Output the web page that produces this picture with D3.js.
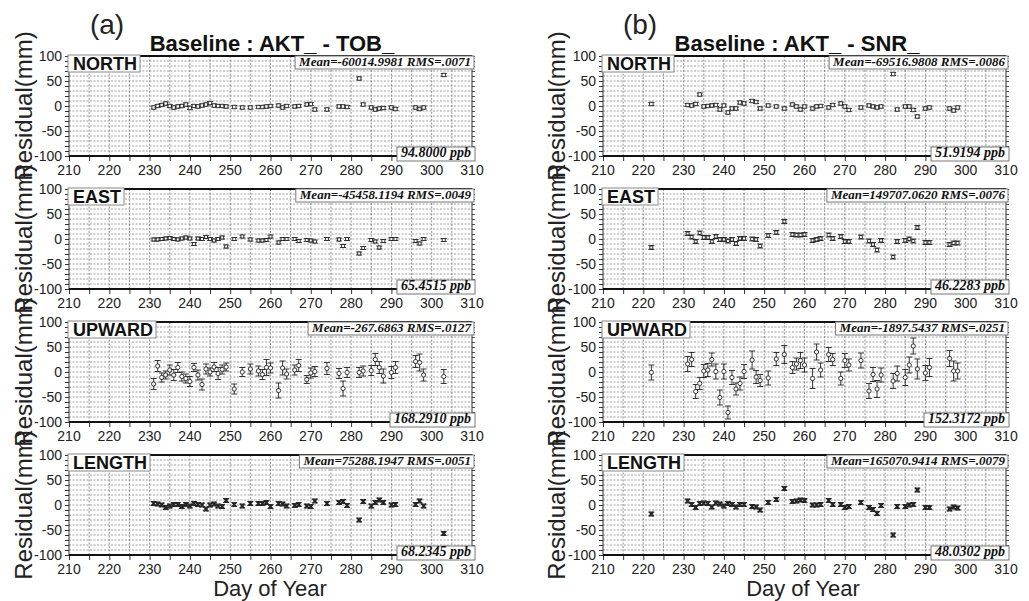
<!DOCTYPE html>
<html>
<head>
<meta charset="utf-8">
<script src="https://cdn.jsdelivr.net/npm/d3@7"></script>
<style>
  body { margin: 0; background: #fff; }
  svg { display: block; }
  .tick-label { font-family: "Liberation Sans", Arial, sans-serif; font-size: 14px; fill: #222; }
  .comp-label { font-family: "Liberation Sans", Arial, sans-serif; font-size: 18px; font-weight: bold; fill: #111; }
  .stat-label { font-family: "Liberation Serif", "Times New Roman", serif; font-size: 13px; font-weight: bold; font-style: italic; fill: #111; }
  .ppb-label { font-family: "Liberation Serif", "Times New Roman", serif; font-size: 14px; font-weight: bold; font-style: italic; fill: #111; }
  .axis-title { font-family: "Liberation Sans", Arial, sans-serif; font-size: 24px; fill: #222; }
  .x-title { font-family: "Liberation Sans", Arial, sans-serif; font-size: 22px; fill: #222; }
  .panel-tag { font-family: "Liberation Sans", Arial, sans-serif; font-size: 28px; fill: #222; }
  .main-title { font-family: "Liberation Sans", Arial, sans-serif; font-size: 22px; font-weight: bold; fill: #111; }
</style>
</head>
<body>
<svg id="chart" width="1029" height="601"></svg>
<script>
// ---- data ----
const components = ['NORTH', 'EAST', 'UPWARD', 'LENGTH'];
const xTicks = [210, 220, 230, 240, 250, 260, 270, 280, 290, 300, 310];
const yTicks = [100, 50, 0, -50, -100];

// (a) AKT_ - TOB_
const daysA = [231, 232, 233, 234, 235, 236, 237, 238, 239, 240, 241, 242, 243, 244, 245, 246, 247, 248, 249, 251,
  253, 255, 257, 258, 259, 260, 262, 263, 264, 266, 267, 269, 270, 271, 274, 277, 278, 279, 282, 283,
  285, 286, 287, 288, 290, 291, 296, 297, 298, 303];
const northA = [-3, 0, 2, 5, 0, -3, -1, 0, 3, -4, 0, -1, 1, 3, 6, 1, 0, 0, -1, -2,
  -3, -3, -2, -2, -1, 0, 1, -3, 0, -1, 0, 3, 4, -7, -7, -1, -1, -2, 55, 3,
  -3, -7, -5, -4, -3, -6, -3, -6, -3, 62];
const eastA = [-1, -1, 0, 1, 2, 0, -1, 1, 3, 1, -10, 1, 0, 4, 0, -3, 0, 3, -15, 0,
  5, -1, -3, -3, -2, 5, -7, 0, 0, 0, -4, -2, -3, -5, 0, -1, -14, 0, -29, -18,
  -2, -5, -17, -4, 0, 0, -4, -9, 0, -2];
const upA = [-24, 12, -11, -6, 4, -6, 9, -9, -13, -19, 9, -6, -25, 6, 0, 10, -3, 5, 10, -34,
  0, 6, 2, -5, 9, 8, -37, 8, -4, 4, 13, -15, -2, 1, 7, -3, -33, -1, -1, 2,
  3, 25, 9, -8, -1, 9, 21, 19, -6, -9];
const upErrA = [11, 11, 9, 8, 10, 11, 10, 9, 9, 10, 8, 10, 11, 10, 8, 9, 12, 9, 8, 10,
  9, 10, 10, 10, 16, 10, 15, 14, 10, 10, 12, 8, 10, 10, 12, 10, 15, 10, 10, 10,
  10, 12, 12, 14, 12, 12, 12, 17, 12, 14];
const lengthA = [3, 2, 0, -5, -2, 1, 1, -3, 1, -2, 3, 1, 0, -8, 0, 2, -2, -3, 9, 1,
  -2, 3, 3, 3, 5, -3, 3, 2, -2, -1, 1, -2, -3, 8, 3, 5, 7, -1, -30, 7,
  -2, 5, 10, 5, 0, 1, 1, 8, -2, -57];
const statsA = ['Mean=-60014.9981 RMS=.0071', 'Mean=-45458.1194 RMS=.0049', 'Mean=-267.6863 RMS=.0127', 'Mean=75288.1947 RMS=.0051'];
const ppbA = ['94.8000 ppb', '65.4515 ppb', '168.2910 ppb', '68.2345 ppb'];

// (b) AKT_ - SNR_
const daysB = [222, 231, 232, 233, 234, 235, 236, 237, 238, 239, 240, 241, 242, 243, 244, 245, 247, 248, 249, 251,
  253, 255, 257, 258, 259, 260, 262, 263, 264, 266, 267, 269, 270, 271, 274, 276, 277, 278, 279, 282,
  283, 285, 286, 287, 288, 290, 291, 296, 297, 298];
const northB = [4, 2, 1, 4, 23, -1, 0, 1, 2, -7, 1, -13, -5, -5, 7, 5, 10, 8, -5, 1,
  -1, -5, 3, -1, -7, -1, -5, -1, 0, -3, 2, 5, -1, -8, -3, 1, -1, -3, -1, 64,
  -7, -1, -1, -8, -21, -5, -3, -5, -9, -3];
const eastB = [-17, 11, 4, -5, 12, 3, 3, -5, 5, -1, -1, -4, -1, -9, 1, 1, 0, -1, -14, 7,
  13, 35, 9, 8, 8, 9, -3, -1, 1, 8, 1, 5, -5, -5, 4, -4, -11, -22, -3, -36,
  -5, -3, 0, -4, 23, -7, -7, -11, -8, -8];
const upB = [-1, 16, 25, -39, -23, 2, 4, 25, 1, -51, 1, -81, -11, -34, -23, 1, 24, -10, -17, -12,
  26, 35, 9, 16, 23, 14, -13, 40, 4, 35, 25, -13, 23, 14, 23, -38, -5, -34, -6, -18,
  -3, -11, 14, 52, 6, -2, 9, 27, 2, 2];
const upErrB = [15, 15, 14, 14, 12, 13, 13, 13, 15, 15, 15, 13, 14, 12, 13, 14, 18, 13, 12, 14,
  13, 18, 12, 12, 16, 14, 20, 16, 14, 14, 12, 13, 14, 12, 15, 15, 14, 17, 14, 15,
  15, 16, 16, 16, 20, 15, 18, 16, 20, 16];
const lengthB = [-18, 8, 1, -5, 3, 4, 3, -4, 4, 2, -2, 3, 1, -4, 1, 1, -3, -4, -10, 5,
  11, 33, 7, 8, 10, 9, 0, 0, 1, 9, 1, 1, -5, -3, 5, -5, -9, -17, -1, -60,
  -3, -3, 0, 1, 30, -5, -5, -8, -4, -6];
const statsB = ['Mean=-69516.9808 RMS=.0086', 'Mean=149707.0620 RMS=.0076', 'Mean=-1897.5437 RMS=.0251', 'Mean=165070.9414 RMS=.0079'];
const ppbB = ['51.9194 ppb', '46.2283 ppb', '152.3172 ppb', '48.0302 ppb'];

// small error bars for NORTH / EAST / LENGTH (mm)
const smallErrA = [3, 3, 4];
const smallErrB = [3, 4, 4];

// ---- drawing ----
class residualPanel {
  constructor(_config, _days, _values, _errors, _comp, _stats, _ppb) {
    this.config = {
      svg: _config.svg,
      left: _config.left,
      top: _config.top,
      width: _config.width || 403,
      height: _config.height || 100
    };
    this.days = _days;
    this.values = _values;
    this.errors = _errors;
    this.comp = _comp;
    this.stats = _stats;
    this.ppb = _ppb;
    this.initPanel();
  }
  initPanel() {
    let p = this;
    let c = p.config;
    p.xScale = d3.scaleLinear().domain([210, 310]).range([0, c.width]);
    p.yScale = d3.scaleLinear().domain([-100, 100]).range([c.height, 0]);
    p.g = c.svg.append('g').attr('transform', `translate(${c.left},${c.top})`);
    p.renderPanel();
  }
  renderPanel() {
    let p = this;
    let c = p.config;
    // grid
    let grid = p.g.append('g').attr('class', 'grid');
    grid.selectAll('line.h').data(d3.range(-90, 100, 10)).enter().append('line')
      .attr('x1', 0).attr('x2', c.width)
      .attr('y1', d => p.yScale(d)).attr('y2', d => p.yScale(d))
      .attr('stroke', '#777').attr('stroke-width', 0.7).attr('stroke-dasharray', '2,1.5');
    grid.selectAll('line.v').data(d3.range(215, 310, 5)).enter().append('line')
      .attr('y1', 0).attr('y2', c.height)
      .attr('x1', d => p.xScale(d)).attr('x2', d => p.xScale(d))
      .attr('stroke', '#666').attr('stroke-width', 0.7).attr('stroke-dasharray', '2,1.5');

    // axes
    let xAxis = d3.axisBottom(p.xScale).tickValues(d3.range(210, 311, 5)).tickSize(5).tickFormat('');
    let yAxis = d3.axisLeft(p.yScale).tickValues(d3.range(-100, 101, 10)).tickSize(4).tickFormat('');
    let yAxisR = d3.axisRight(p.yScale).tickValues(d3.range(-100, 101, 10)).tickSize(3).tickFormat('');
    p.g.append('g').attr('transform', `translate(0,${c.height})`).call(xAxis)
      .call(g => g.select('.domain').remove())
      .selectAll('line').attr('stroke', '#333');
    p.g.append('g').call(yAxis).call(g => g.select('.domain').remove())
      .selectAll('line').attr('stroke', '#333');
    p.g.append('g').attr('transform', `translate(${c.width},0)`).call(yAxisR)
      .call(g => g.select('.domain').remove())
      .selectAll('line').attr('stroke', '#555');

    // frame
    p.g.append('rect').attr('width', c.width).attr('height', c.height)
      .attr('fill', 'none').attr('stroke', '#333').attr('stroke-width', 1);
    p.g.append('line').attr('x1', 0).attr('x2', c.width).attr('y1', 0).attr('y2', 0)
      .attr('stroke', '#111').attr('stroke-width', 2);
    p.g.append('line').attr('x1', 0).attr('x2', c.width).attr('y1', c.height).attr('y2', c.height)
      .attr('stroke', '#111').attr('stroke-width', 2);

    // tick labels
    p.g.selectAll('text.xl').data(xTicks).enter().append('text').attr('class', 'tick-label')
      .attr('x', d => p.xScale(d)).attr('y', c.height + 19).attr('text-anchor', 'middle').text(d => d);
    p.g.selectAll('text.yl').data(yTicks).enter().append('text').attr('class', 'tick-label')
      .attr('x', -7).attr('y', d => p.yScale(d) + 5).attr('text-anchor', 'end').text(d => d);

    // points with error bars
    let pts = p.days.map((d, i) => ({ day: d, v: p.values[i], e: p.errors[i] }));
    let mark = p.g.append('g').selectAll('g').data(pts).enter().append('g')
      .attr('transform', d => `translate(${p.xScale(d.day)},0)`);
    mark.append('line').attr('x1', 0).attr('x2', 0)
      .attr('y1', d => p.yScale(d.v + d.e)).attr('y2', d => p.yScale(d.v - d.e))
      .attr('stroke', '#222').attr('stroke-width', 0.9);
    mark.append('line').attr('x1', -3).attr('x2', 3)
      .attr('y1', d => p.yScale(d.v + d.e)).attr('y2', d => p.yScale(d.v + d.e))
      .attr('stroke', '#222').attr('stroke-width', 0.9);
    mark.append('line').attr('x1', -3).attr('x2', 3)
      .attr('y1', d => p.yScale(d.v - d.e)).attr('y2', d => p.yScale(d.v - d.e))
      .attr('stroke', '#222').attr('stroke-width', 0.9);
    let symType = { NORTH: d3.symbolSquare, EAST: d3.symbolSquare, UPWARD: d3.symbolCircle, LENGTH: d3.symbolTimes }[p.comp];
    let symSize = { NORTH: 12, EAST: 9, UPWARD: 14, LENGTH: 14 }[p.comp];
    mark.append('path').attr('d', d3.symbol().type(symType).size(symSize))
      .attr('transform', d => `translate(0,${p.yScale(d.v)})`)
      .attr('fill', p.comp === 'LENGTH' ? '#111' : '#fff')
      .attr('stroke', '#222').attr('stroke-width', p.comp === 'LENGTH' ? 1.6 : 0.9);

    // component label box (top-left)
    let cl = p.g.append('g');
    let clText = cl.append('text').attr('class', 'comp-label').attr('x', 4).attr('y', 14).text(p.comp);
    let clw = clText.node().getComputedTextLength();
    cl.insert('rect', 'text').attr('x', -1).attr('y', -1).attr('width', clw + 8).attr('height', 17)
      .attr('fill', '#fff').attr('stroke', '#888').attr('stroke-width', 1);

    // mean / rms box (top-right)
    let st = p.g.append('g');
    let stText = st.append('text').attr('class', 'stat-label').attr('x', c.width - 1).attr('y', 10)
      .attr('text-anchor', 'end').text(p.stats);
    let stw = stText.node().getComputedTextLength();
    st.insert('rect', 'text').attr('x', c.width - stw - 5).attr('y', 0).attr('width', stw + 7).attr('height', 13)
      .attr('fill', '#fff').attr('stroke', '#777').attr('stroke-width', 1);

    // ppb box (bottom-right)
    let pb = p.g.append('g');
    let pbText = pb.append('text').attr('class', 'ppb-label').attr('x', c.width - 1).attr('y', c.height + 1)
      .attr('text-anchor', 'end').text(p.ppb);
    let pbw = pbText.node().getComputedTextLength();
    pb.insert('rect', 'text').attr('x', c.width - pbw - 5).attr('y', c.height - 9).attr('width', pbw + 8).attr('height', 14)
      .attr('fill', '#fff').attr('stroke', '#777').attr('stroke-width', 1);
  }
}

const svg = d3.select('#chart');
const panelTops = [56, 189, 322, 455];
const panelH = 100;
const columns = [
  { left: 69, tag: '(a)', tagX: 107, title: 'Baseline : AKT_ - TOB_', titleX: 272, ylabX: 24, xTitleX: 270,
    days: daysA, vals: [northA, eastA, upA, lengthA], upErr: upErrA, smallErr: smallErrA, stats: statsA, ppb: ppbA },
  { left: 603, tag: '(b)', tagX: 640, title: 'Baseline : AKT_ - SNR_', titleX: 797, ylabX: 557, xTitleX: 803,
    days: daysB, vals: [northB, eastB, upB, lengthB], upErr: upErrB, smallErr: smallErrB, stats: statsB, ppb: ppbB }
];

columns.forEach(col => {
  // y-axis titles first, so panels overlap them
  panelTops.forEach(t => {
    svg.append('text').attr('class', 'axis-title')
      .attr('transform', `translate(${col.ylabX},${t + panelH / 2}) rotate(-90)`)
      .attr('text-anchor', 'middle').attr('dy', '0.35em').text('Residual(mm)');
  });
  components.forEach((comp, i) => {
    let errs;
    if (comp === 'UPWARD') errs = col.upErr;
    else errs = col.days.map(() => col.smallErr[i === 3 ? 2 : i]);
    new residualPanel({ svg: svg, left: col.left, top: panelTops[i], height: panelH },
      col.days, col.vals[i], errs, comp, col.stats[i], col.ppb[i]);
  });
  svg.append('text').attr('class', 'panel-tag').attr('x', col.tagX).attr('y', 34)
    .attr('text-anchor', 'middle').text(col.tag);
  svg.append('text').attr('class', 'main-title').attr('x', col.titleX).attr('y', 51)
    .attr('text-anchor', 'middle').text(col.title);
  svg.append('text').attr('class', 'x-title').attr('x', col.xTitleX).attr('y', 596)
    .attr('text-anchor', 'middle').text('Day of Year');
});
</script>
</body>
</html>
